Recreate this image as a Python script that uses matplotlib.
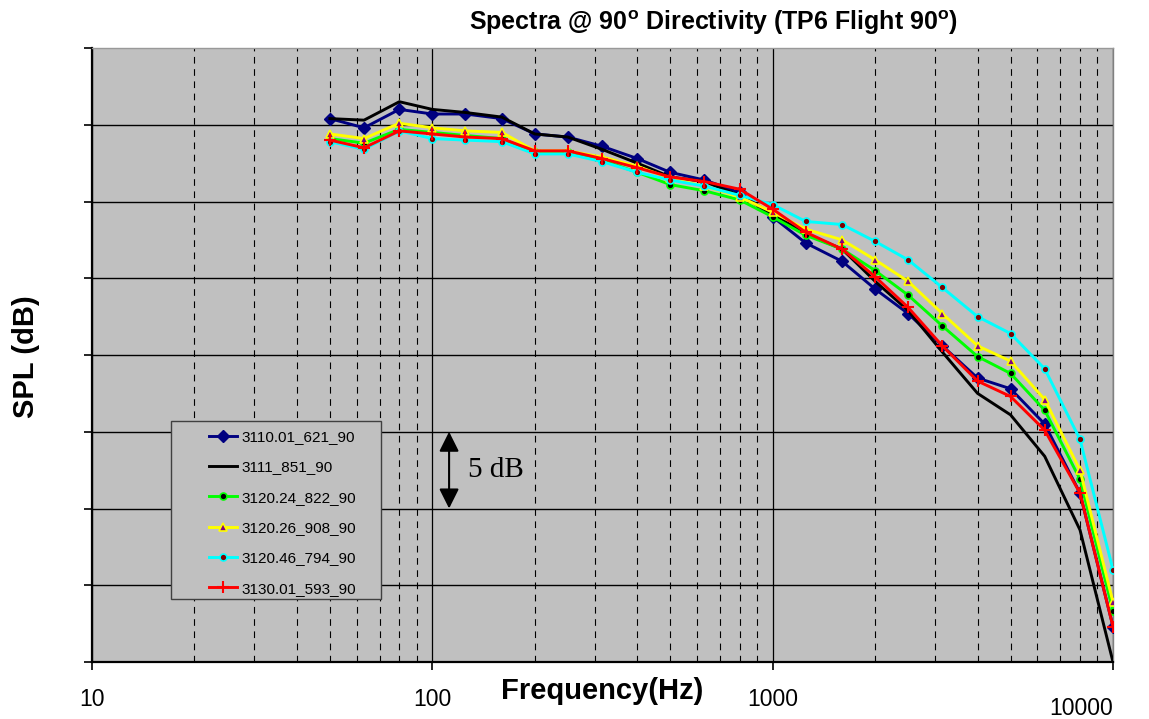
import numpy as np
import matplotlib
matplotlib.use("Agg")
import matplotlib.pyplot as plt
from matplotlib.patches import Rectangle

plt.rcParams['font.family'] = ['Liberation Sans', 'DejaVu Sans']
plt.rcParams['mathtext.fontset'] = 'custom'
plt.rcParams['mathtext.rm'] = 'Liberation Sans'
plt.rcParams['mathtext.bf'] = 'Liberation Sans:bold'

# 1/3 octave band centre frequencies (Hz)
freq = [50, 63, 80, 100, 125, 160, 200, 250, 315, 400, 500, 630, 800,
        1000, 1250, 1600, 2000, 2500, 3150, 4000, 5000, 6300, 8000, 10000]

# SPL (dB)
spl_3110_01 = [95.4, 94.8, 96.0, 95.7, 95.7, 95.4, 94.4, 94.2, 93.6, 92.8, 91.9, 91.4, 90.6,
               89.0, 87.3, 86.1, 84.3, 82.7, 80.6, 78.5, 77.8, 75.5, 71.0, 62.3]
spl_3111 = [95.4, 95.3, 96.5, 96.0, 95.8, 95.5, 94.4, 94.2, 93.4, 92.5, 91.6, 91.3, 90.4,
            89.2, 87.9, 86.9, 84.8, 82.9, 80.2, 77.5, 76.1, 73.4, 68.6, 60.0]
spl_3120_24 = [94.1, 93.8, 94.7, 94.5, 94.3, 94.1, 93.2, 93.2, 92.7, 91.9, 91.1, 90.7, 90.1,
               89.0, 87.8, 86.9, 85.5, 83.9, 81.9, 79.9, 78.8, 76.4, 71.9, 63.3]
spl_3120_26 = [94.4, 94.1, 95.1, 94.8, 94.6, 94.5, 93.3, 93.3, 92.9, 92.3, 91.5, 91.0, 90.3,
               89.3, 88.2, 87.5, 86.2, 84.8, 82.7, 80.6, 79.6, 77.1, 72.5, 63.9]
spl_3120_46 = [93.9, 93.4, 94.6, 94.1, 94.0, 93.9, 93.1, 93.1, 92.6, 91.9, 91.4, 91.0, 90.4,
               89.8, 88.7, 88.5, 87.4, 86.2, 84.4, 82.5, 81.4, 79.1, 74.5, 66.0]
spl_3130_01 = [94.0, 93.5, 94.6, 94.4, 94.2, 94.1, 93.3, 93.3, 92.8, 92.2, 91.6, 91.3, 90.8,
               89.5, 88.0, 86.9, 85.1, 83.1, 80.6, 78.3, 77.3, 75.1, 71.0, 62.3]

labels = ['3110.01_621_90', '3111_851_90', '3120.24_822_90',
          '3120.26_908_90', '3120.46_794_90', '3130.01_593_90']

xticks = [10, 100, 1000, 10000]
yticks = [60, 65, 70, 75, 80, 85, 90, 95, 100]

fig = plt.figure(figsize=(11.49, 7.19), dpi=100)
ax = fig.add_axes([92/1149, 57/719, 1021/1149, 614/719])
ax.set_facecolor('#c0c0c0')

ax.plot(freq, spl_3110_01, color='#000080', lw=2.1, marker='D', ms=6.5,
        mfc='#000080', mec='#000080', label=labels[0], zorder=3)
ax.plot(freq, spl_3111, color='black', lw=2.1, label=labels[1], zorder=3)
ax.plot(freq, spl_3120_24, color='#00ff00', lw=2.1, marker='o', ms=5,
        mfc='black', mec='#00ff00', mew=1.2, label=labels[2], zorder=3)
ax.plot(freq, spl_3120_26, color='#ffff00', lw=2.1, marker='^', ms=6,
        mfc='#800080', mec='#ffff00', mew=1.2, label=labels[3], zorder=3)
ax.plot(freq, spl_3120_46, color='#00ffff', lw=2.1, marker='o', ms=5,
        mfc='#800000', mec='#00ffff', mew=1.2, label=labels[4], zorder=3)
ax.plot(freq, spl_3130_01, color='#ff0000', lw=2.1, marker='+', ms=9,
        mew=1.5, label=labels[5], zorder=3)

ax.set_xscale('log')
ax.set_xlim(10, 10000)
ax.set_ylim(60, 100)
ax.set_yticks(yticks)
ax.set_yticklabels([])
ax.set_xticks(xticks)
ax.set_xticklabels(['10', '100', '1000', ''])
ax.tick_params(axis='x', which='major', direction='out', length=6, width=1.2,
               labelsize=16.5, pad=13)
ax.tick_params(axis='x', which='minor', length=0)
ax.tick_params(axis='y', direction='out', length=6, width=1.2)

# grid
ax.grid(True, which='major', axis='y', color='black', lw=1.0)
ax.grid(True, which='major', axis='x', color='black', lw=0.9)
ax.grid(True, which='minor', axis='x', color='black', lw=0.8, linestyle=(0, (6, 5)))
ax.yaxis.get_gridlines()[-1].set_visible(False)
ax.set_axisbelow(True)

for s in ['left', 'bottom']:
    ax.spines[s].set_linewidth(1.6)
    ax.spines[s].set_color('black')
ax.spines['top'].set_color('#999999')
ax.spines['top'].set_linewidth(1.0)
ax.spines['right'].set_color('#808080')
ax.spines['right'].set_linewidth(1.0)

ax.text(10000, -0.075, '10000', transform=ax.get_xaxis_transform(),
        ha='right', va='center', fontsize=16.5)

ax.set_xlabel('Frequency(Hz)', fontsize=21, fontweight='bold')
ax.xaxis.set_label_coords(0.4995, -0.025)
ax.set_ylabel('SPL (dB)', fontsize=21, fontweight='bold')
ax.yaxis.set_label_coords(-0.051, 0.497)

fig.text(0.6205, 0.969,
         r'Spectra @ 90$^{\mathbf{o}}$ Directivity (TP6 Flight 90$^{\mathbf{o}}$)',
         ha='center', va='center', fontsize=18, fontweight='bold')

# 5 dB scale arrow
ax.annotate('', xy=(112, 70), xytext=(112, 75),
            arrowprops=dict(arrowstyle='<|-|>', color='black', lw=1.5,
                            mutation_scale=30, shrinkA=0, shrinkB=0))
ax.text(127, 72.5, '5 dB', ha='left', va='center', fontsize=21,
        family=['Liberation Serif', 'DejaVu Serif'])

# legend box
ax.add_patch(Rectangle((0.0774, 0.1026), 0.2057, 0.2899, transform=ax.transAxes,
                       facecolor='#c0c0c0', edgecolor='#404040', lw=1.0, zorder=5))
leg = ax.legend(loc='upper left', bbox_to_anchor=(0.1146, 0.378), frameon=False,
                fontsize=11, handlelength=1.85, handletextpad=0.3, labelspacing=1.07,
                borderpad=0, borderaxespad=0)
leg.set_zorder(6)

plt.savefig('out.png', dpi=100)
